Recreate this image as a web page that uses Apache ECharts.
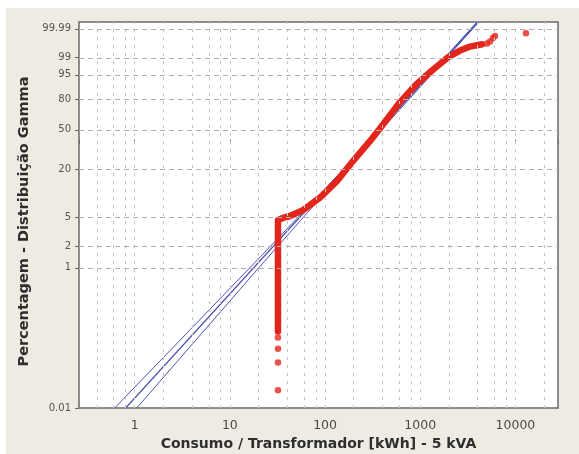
<!DOCTYPE html>
<html>
<head>
<meta charset="utf-8">
<title>Consumo / Transformador - papel de probabilidade gama</title>
<script src="https://cdn.jsdelivr.net/npm/echarts@6/dist/echarts.min.js"></script>
<style>
  html, body { margin: 0; padding: 0; background: #fff; }
  #wrap { position: relative; width: 579px; height: 454px; background: #fff; }
  #panel { position: absolute; left: 6px; top: 8px; right: 0; bottom: 0; background: #eeebe3; }
  #chart { position: absolute; left: 0; top: 0; width: 579px; height: 454px; }
</style>
</head>
<body>
<div id="wrap"><div id="panel"></div><div id="chart"></div></div>
<script>
// forma da distribuição gama usada na escala do eixo Y
const GAMMA_SHAPE = 1.55;

const xMin = 0.26;
const xMax = 28000;
const xLabelValues = [1, 10, 100, 1000, 10000];
const xGridMult = [1, 2, 4, 6, 8];
const yTickPct = [0.01, 1, 2, 5, 20, 50, 80, 95, 99, 99.99];
const yTopPct = 99.998;

// massa contínua de pontos observados (kWh, %)
const curveX   = [32, 32, 37, 42.7, 58.4, 88.2, 133, 196, 296, 412, 600, 885, 1320, 1930, 2614, 3333, 4455];
const curvePct = [0.125, 4.55, 4.9, 5.15, 6.13, 8.93, 14.4, 24.5, 39.6, 56.0, 76.3, 89.8, 96.4, 99.0, 99.58, 99.76, 99.83];
// pontos isolados nas caudas
const tailX   = [32, 32, 32, 32, 5025, 5408, 5810, 6100, 12900];
const tailPct = [0.018, 0.045, 0.071, 0.103, 99.85, 99.89, 99.94, 99.957, 99.975];

// reta ajustada e limites de confiança
const fitPct = [0.01, 99.998];
const fitX = [0.804, 4045];
const bandPct = [0.01, 1, 20, 99.998];
const bandLowX = [0.616, 16.2, 157.7, 3945];
const bandHighX = [1.05, 20.1, 165.5, 4140];

function lnGamma(z) {
    const c = [0.99999999999980993, 676.5203681218851, -1259.1392167224028, 771.32342877765313,
        -176.61502916214059, 12.507343278686905, -0.13857109526572012, 9.9843695780195716e-6, 1.5056327351493116e-7];
    if (z < 0.5) return Math.log(Math.PI / Math.sin(Math.PI * z)) - lnGamma(1 - z);
    z -= 1;
    let x = c[0];
    for (let i = 1; i < 9; i++) x += c[i] / (z + i);
    const t = z + 7.5;
    return 0.5 * Math.log(2 * Math.PI) + (z + 0.5) * Math.log(t) - t + Math.log(x);
}

// P(a, x) regularizada
function gammaP(a, x) {
    if (x <= 0) return 0;
    const front = Math.exp(-x + a * Math.log(x) - lnGamma(a));
    if (x < a + 1) {
        let ap = a, del = 1 / a, sum = del;
        for (let n = 0; n < 500; n++) {
            ap += 1;
            del *= x / ap;
            sum += del;
            if (Math.abs(del) < Math.abs(sum) * 1e-15) break;
        }
        return sum * front;
    }
    let b = x + 1 - a, c = 1e300, d = 1 / b, h = d;
    for (let i = 1; i < 500; i++) {
        const an = -i * (i - a);
        b += 2;
        d = an * d + b; if (Math.abs(d) < 1e-300) d = 1e-300;
        c = b + an / c; if (Math.abs(c) < 1e-300) c = 1e-300;
        d = 1 / d;
        const del = d * c;
        h *= del;
        if (Math.abs(del - 1) < 1e-15) break;
    }
    return 1 - front * h;
}

// percentagem -> posição no eixo (log do quantil gama)
function probPos(pct) {
    const p = pct / 100;
    let lo = -40, hi = 6;
    for (let i = 0; i < 70; i++) {
        const mid = (lo + hi) / 2;
        if (gammaP(GAMMA_SHAPE, Math.exp(mid)) < p) lo = mid; else hi = mid;
    }
    return (lo + hi) / 2;
}

const toPoints = (xs, ps) => xs.map((x, i) => [x, probPos(ps[i])]);
const yTickPos = yTickPct.map(probPos);

const xGridValues = [];
for (let e = -1; e <= 4; e++) {
    xGridMult.forEach(m => {
        const v = m * Math.pow(10, e);
        if (v > xMin && v < xMax) xGridValues.push(v);
    });
}

const FONT = 'DejaVu Sans';
const RED = '#e3261c';
const BLUE = '#4d52b0';

const chart = echarts.init(document.getElementById('chart'), null, { renderer: 'canvas' });
chart.setOption({
    animation: false,
    backgroundColor: 'transparent',
    grid: {
        left: 79, right: 21, top: 22, bottom: 46,
        show: true,
        backgroundColor: '#ffffff',
        borderColor: '#6a6a6a',
        borderWidth: 1.5,
        outerBoundsMode: 'none'
    },
    xAxis: {
        type: 'log',
        logBase: 10,
        min: xMin,
        max: xMax,
        axisLine: { show: false },
        splitLine: { show: false },
        axisTick: { show: true, length: 4, lineStyle: { color: '#666' } },
        axisLabel: {
            margin: 11,
            color: '#4a4a4a',
            fontSize: 12.5,
            fontFamily: FONT,
            formatter: v => {
                const t = xLabelValues.find(t => Math.abs(t - v) / t < 1e-6);
                return t ? String(t) : '';
            }
        },
        name: 'Consumo / Transformador [kWh] - 5 kVA',
        nameLocation: 'middle',
        nameGap: 27,
        nameTextStyle: { fontFamily: FONT, fontWeight: 'bold', fontSize: 14, color: '#2e2e2e' }
    },
    yAxis: {
        type: 'value',
        min: probPos(yTickPct[0]),
        max: probPos(yTopPct),
        axisLine: { show: false },
        splitLine: { show: false },
        axisTick: { show: true, length: 4, customValues: yTickPos, lineStyle: { color: '#666' } },
        axisLabel: {
            customValues: yTickPos,
            margin: 8,
            color: '#555',
            fontSize: 10,
            fontFamily: FONT,
            formatter: v => {
                let best = 0;
                yTickPos.forEach((p, i) => { if (Math.abs(p - v) < Math.abs(yTickPos[best] - v)) best = i; });
                return String(yTickPct[best]);
            }
        },
        name: 'Percentagem - Distribuição Gamma',
        nameLocation: 'middle',
        nameRotate: 90,
        nameGap: 46,
        nameTextStyle: { fontFamily: FONT, fontWeight: 'bold', fontSize: 14.5, color: '#2e2e2e', padding: [0, 13, 0, 0] }
    },
    series: [
        {
            name: 'grade',
            type: 'line',
            data: [],
            silent: true,
            z: 1,
            markLine: {
                silent: true,
                symbol: 'none',
                label: { show: false },
                animation: false,
                data: [
                    ...xGridValues.map(v => ({ xAxis: v, lineStyle: { color: '#c4c4c4', type: [3, 5], width: 1 } })),
                    ...yTickPos.slice(1).map(v => ({ yAxis: v, lineStyle: { color: '#b0b0b0', type: [5, 4], width: 1 } }))
                ]
            }
        },
        {
            name: 'limite inferior',
            type: 'line',
            z: 2,
            symbol: 'none',
            data: toPoints(bandLowX, bandPct),
            lineStyle: { color: BLUE, width: 1 }
        },
        {
            name: 'ajuste',
            type: 'line',
            z: 2,
            symbol: 'none',
            data: toPoints(fitX, fitPct),
            lineStyle: { color: BLUE, width: 1.2 }
        },
        {
            name: 'limite superior',
            type: 'line',
            z: 2,
            symbol: 'none',
            data: toPoints(bandHighX, bandPct),
            lineStyle: { color: BLUE, width: 1 }
        },
        {
            name: 'observado',
            type: 'line',
            z: 3,
            symbol: 'none',
            data: toPoints(curveX, curvePct),
            lineStyle: { color: RED, width: 6.5, cap: 'round', join: 'round' }
        },
        {
            name: 'observado (caudas)',
            type: 'scatter',
            z: 3,
            symbolSize: 6.5,
            data: toPoints(tailX, tailPct),
            itemStyle: { color: RED }
        }
    ]
});
</script>
</body>
</html>
